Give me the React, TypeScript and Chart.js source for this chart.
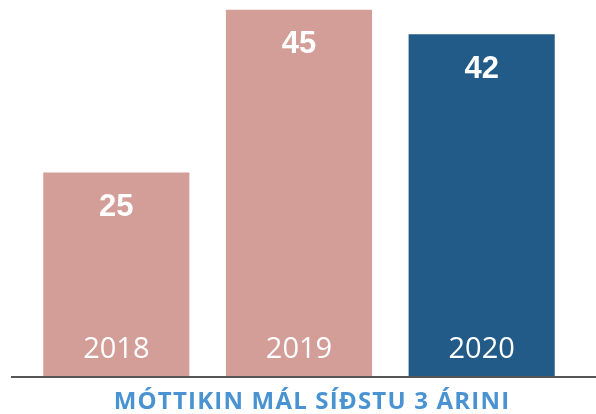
import React, { useEffect, useRef } from "react";
import { Chart, registerables } from "chart.js";

Chart.register(...registerables);

const categories = ["2018", "2019", "2020"];
const values = [25, 45, 42];
const barColors = ["#D39D98", "#D39D98", "#235B88"];
const title = "MÓTTIKIN MÁL SÍÐSTU 3 ÁRINI";

export default function App() {
  const ref = useRef<HTMLCanvasElement | null>(null);

  useEffect(() => {
    if (!ref.current) return;
    const labelPlugin = {
      id: "labels",
      afterDatasetsDraw(chart: any) {
        const ctx = chart.ctx;
        const area = chart.chartArea;
        const meta = chart.getDatasetMeta(0);
        ctx.save();
        // baseline
        ctx.strokeStyle = "#555555";
        ctx.lineWidth = 2;
        ctx.beginPath();
        ctx.moveTo(area.left - 14, area.bottom + 1);
        ctx.lineTo(chart.width, area.bottom + 1);
        ctx.stroke();
        ctx.textAlign = "center";
        ctx.textBaseline = "middle";
        ctx.fillStyle = "#FFFFFF";
        meta.data.forEach((bar: any, i: number) => {
          ctx.font = "bold 31px 'Liberation Sans', Arial, sans-serif";
          ctx.fillText(String(values[i]), bar.x, bar.y + 35);
          ctx.font = "29px 'Open Sans', sans-serif";
          ctx.fillText(categories[i], bar.x, area.bottom - 26);
        });
        ctx.fillStyle = "#4A93D2";
        ctx.font = "bold 24px 'Open Sans', sans-serif";
        (ctx as any).letterSpacing = "1.2px";
        ctx.fillText(title, (area.left + area.right) / 2 + 13, area.bottom + 26);
        ctx.restore();
      },
    };
    const chart = new Chart(ref.current, {
      type: "bar",
      data: {
        labels: categories,
        datasets: [
          {
            data: values,
            backgroundColor: barColors,
            borderWidth: 0,
            barPercentage: 0.8,
            categoryPercentage: 1,
          },
        ],
      },
      options: {
        animation: false,
        responsive: false,
        maintainAspectRatio: false,
        layout: { padding: { left: 25, right: 23, top: 0, bottom: 38 } },
        plugins: {
          legend: { display: false },
          tooltip: { enabled: false },
          title: { display: false },
        },
        scales: {
          x: { display: false },
          y: { display: false, min: 0, max: 46.2 },
        },
      },
      plugins: [labelPlugin],
    });
    return () => chart.destroy();
  }, []);

  return (
    <div style={{ position: "fixed", left: 0, top: 0, width: 596, height: 414, background: "#fff" }}>
      <canvas ref={ref} width={596} height={414} style={{ display: "block", width: 596, height: 414 }} />
    </div>
  );
}
